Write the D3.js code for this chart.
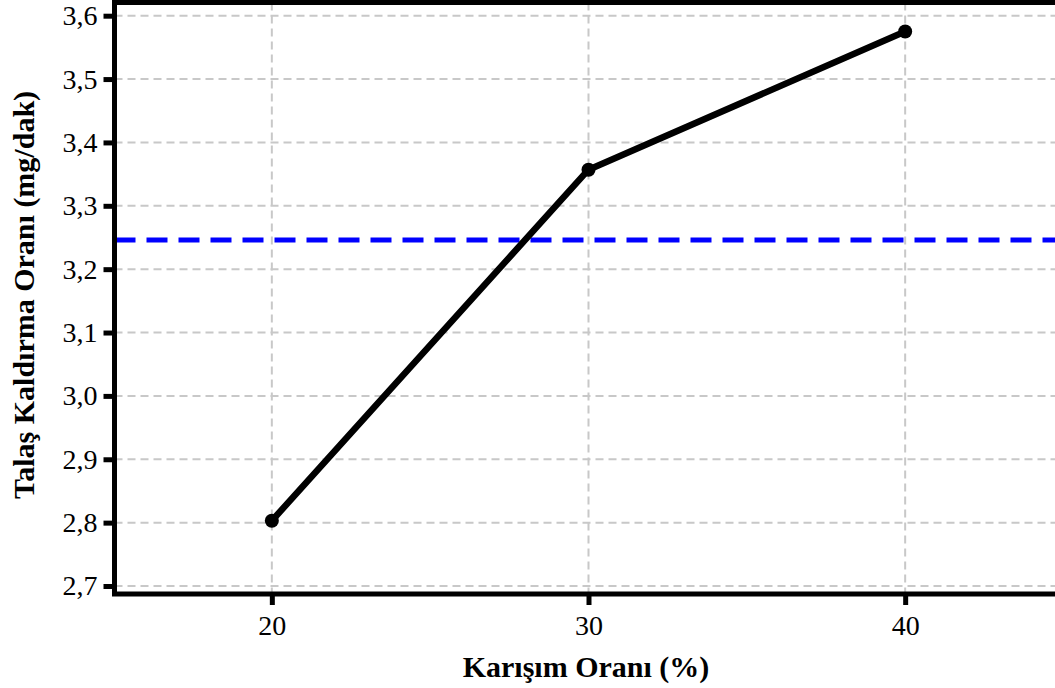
<!DOCTYPE html>
<html lang="tr">

<head>
    <meta charset="UTF-8">
    <title>Talaş Kaldırma Oranı</title>
    <script src="https://d3js.org/d3.v7.min.js"></script>
</head>

<style>
    body {
        margin: 0;
        background: #fff;
        overflow: hidden;
    }

    svg text {
        font-family: "Liberation Serif", "Times New Roman", serif;
        fill: #000;
    }

    .axis text {
        font-size: 28px;
    }

    .axis-title {
        font-size: 30px;
        font-weight: bold;
    }
</style>

<body>
    <script>
        // data
        const mixRatio = [20, 30, 40]
        const removalRate = [2.803, 3.357, 3.575]
        const meanRate = 3.246
        const xTicks = [20, 30, 40]
        const yTicks = [2.7, 2.8, 2.9, 3.0, 3.1, 3.2, 3.3, 3.4, 3.5, 3.6]

        const width = 1055
        const height = 688

        const x = d3.scaleLinear().domain([15, 45]).range([113.5, 1063.5])
        const y = d3.scaleLinear().domain([2.7, 3.6]).range([586, 15.7])

        const plotTop = 2.5
        const plotBottom = 594
        const plotLeft = 114.5
        const plotRight = 1063

        const comma = d3.formatLocale({ decimal: ",", thousands: ".", grouping: [3], currency: ["", ""] })
        const fmt = comma.format(".1f")

        const svg = d3.select("body").append("svg")
            .attr("width", width)
            .attr("height", height)

        // grid
        const grid = svg.append("g")
            .attr("stroke", "#c8c8c8")
            .attr("stroke-width", 2)
            .attr("stroke-dasharray", "8,5")
        grid.selectAll(".hgrid")
            .data(yTicks)
            .join("line")
            .attr("x1", plotLeft)
            .attr("x2", plotRight)
            .attr("y1", d => y(d))
            .attr("y2", d => y(d))
        grid.selectAll(".vgrid")
            .data(xTicks)
            .join("line")
            .attr("x1", d => x(d))
            .attr("x2", d => x(d))
            .attr("y1", plotTop)
            .attr("y2", plotBottom)

        // mean line
        svg.append("line")
            .attr("x1", plotLeft)
            .attr("x2", plotRight)
            .attr("y1", y(meanRate))
            .attr("y2", y(meanRate))
            .attr("stroke", "#0000ff")
            .attr("stroke-width", 5)
            .attr("stroke-dasharray", "21,11")

        // data line
        const points = mixRatio.map((m, i) => ({ m: m, v: removalRate[i] }))
        const valueLine = d3.line()
            .x(d => x(d.m))
            .y(d => y(d.v))

        svg.append("path")
            .attr("d", valueLine(points))
            .attr("fill", "none")
            .attr("stroke", "#000")
            .attr("stroke-width", 6.5)
            .attr("stroke-linejoin", "round")

        svg.selectAll(".dot")
            .data(points)
            .join("circle")
            .attr("cx", d => x(d.m))
            .attr("cy", d => y(d.v))
            .attr("r", 7)
            .attr("fill", "#000")

        // frame
        svg.append("rect")
            .attr("x", plotLeft)
            .attr("y", plotTop)
            .attr("width", plotRight - plotLeft)
            .attr("height", plotBottom - plotTop)
            .attr("fill", "none")
            .attr("stroke", "#000")
            .attr("stroke-width", 5)

        // axes
        const yAxis = d3.axisLeft(y)
            .tickValues(yTicks)
            .tickFormat(fmt)
            .tickSizeInner(11)
            .tickSizeOuter(0)
            .tickPadding(6)
        const gy = svg.append("g")
            .attr("class", "axis")
            .attr("transform", "translate(" + plotLeft + ",0)")
            .call(yAxis)
        gy.select(".domain").remove()
        gy.selectAll(".tick line").attr("stroke", "#000").attr("stroke-width", 5)

        const xAxis = d3.axisBottom(x)
            .tickValues(xTicks)
            .tickFormat(d3.format("d"))
            .tickSizeInner(11)
            .tickSizeOuter(0)
            .tickPadding(10)
        const gx = svg.append("g")
            .attr("class", "axis")
            .attr("transform", "translate(0," + plotBottom + ")")
            .call(xAxis)
        gx.select(".domain").remove()
        gx.selectAll(".tick line").attr("stroke", "#000").attr("stroke-width", 5)
        svg.selectAll(".axis text").attr("font-family", null).attr("font-size", null)

        // titles
        svg.append("text")
            .attr("class", "axis-title")
            .attr("x", 586)
            .attr("y", 677)
            .style("text-anchor", "middle")
            .text("Karışım Oranı (%)")

        svg.append("text")
            .attr("class", "axis-title")
            .attr("transform", "translate(34,295) rotate(-90)")
            .style("text-anchor", "middle")
            .text("Talaş Kaldırma Oranı (mg/dak)")
    </script>
</body>
</html>
